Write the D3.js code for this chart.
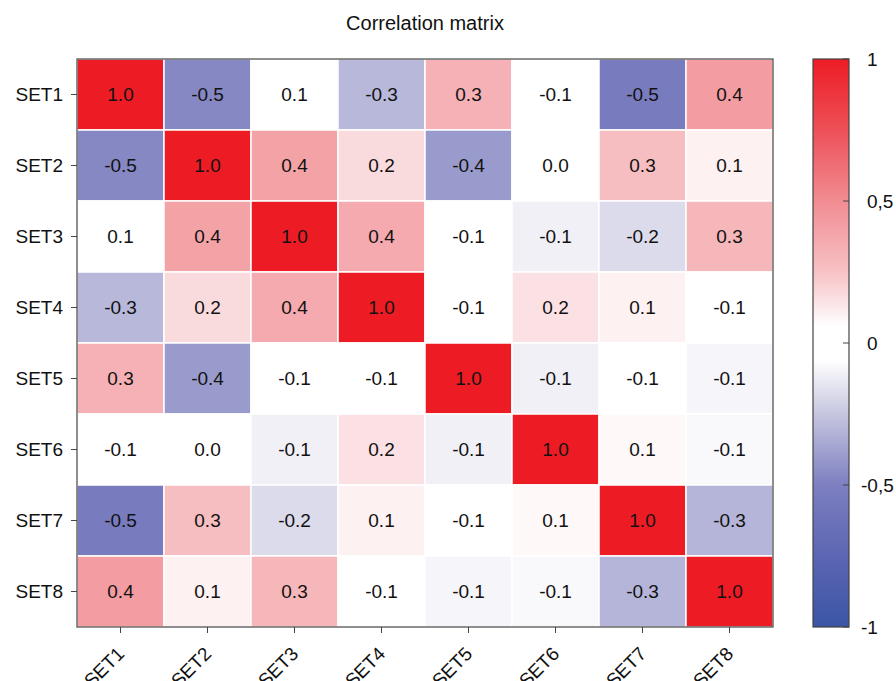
<!DOCTYPE html>
<html><head><meta charset="utf-8">
<script src="https://cdn.jsdelivr.net/npm/d3@7"></script>
<style>body{margin:0;background:#fff}svg{display:block;font-family:"Liberation Sans",Arial,sans-serif}</style>
</head><body><svg id="c" width="896" height="681"></svg>
<script>
const title = "Correlation matrix";
const sets = ["SET1","SET2","SET3","SET4","SET5","SET6","SET7","SET8"];
// correlation values (estimated; labels shown rounded to 1 decimal)
const row1 = [1.00,-0.47, 0.06,-0.30, 0.33,-0.06,-0.54, 0.42];
const row2 = [-0.47,1.00, 0.40, 0.17,-0.40, 0.02, 0.27, 0.10];
const row3 = [0.06, 0.40, 1.00, 0.36,-0.06,-0.11,-0.18, 0.30];
const row4 = [-0.30,0.17, 0.36, 1.00,-0.06, 0.15, 0.10,-0.06];
const row5 = [0.33,-0.40,-0.06,-0.06, 1.00,-0.11,-0.06,-0.09];
const row6 = [-0.06,0.02,-0.11, 0.15,-0.11, 1.00, 0.08,-0.08];
const row7 = [-0.54,0.27,-0.18, 0.10,-0.06, 0.08, 1.00,-0.31];
const row8 = [0.42, 0.10, 0.30,-0.06,-0.09,-0.08,-0.31, 1.00];
const matrix = [row1,row2,row3,row4,row5,row6,row7,row8];
const legendTicks = [1, 0.5, 0, -0.5, -1];
const legendTickLabels = ["1","0,5","0","-0,5","-1"];
const colorStops = [1,0.75,0.5,0.25,0.1,0.06,0,-0.06,-0.1,-0.25,-0.5,-0.75,-1];
const colorValues = ["#ED1C24","#EE5058","#F18C92","#F7C2C5","#FDF1F2","#FFFFFF","#FFFFFF","#FFFFFF","#F3F3F8","#C6C6E0","#7D7FC0","#5C66B3","#3B55A5"];

const svg = d3.select("#c");
const L=77, R=773, T=59, B=627;
const x = d3.scaleBand().domain(sets).range([L,R]).padding(0);
const y = d3.scaleBand().domain(sets).range([T,B]).padding(0);
const color = d3.scaleLinear().domain(colorStops).range(colorValues).interpolate(d3.interpolateRgb).clamp(true);

svg.append("text").attr("x",(L+R)/2).attr("y",30).attr("text-anchor","middle")
  .attr("font-size",20).attr("fill","#111").text(title);

const cells = [];
matrix.forEach((r,i)=>r.forEach((v,j)=>cells.push({row:sets[i],col:sets[j],v})));

svg.append("g").selectAll("rect").data(cells).join("rect")
  .attr("x",d=>x(d.col)).attr("y",d=>y(d.row))
  .attr("width",x.bandwidth()).attr("height",y.bandwidth())
  .attr("fill",d=>color(d.v)).attr("stroke","#fff").attr("stroke-width",1.5);

svg.append("g").selectAll("text").data(cells).join("text")
  .attr("x",d=>x(d.col)+x.bandwidth()/2).attr("y",d=>y(d.row)+y.bandwidth()/2)
  .attr("dy","0.36em").attr("text-anchor","middle").attr("font-size",19).attr("fill","#111")
  .text(d=>{const r=Math.round(d.v*10)/10; return (r===0?0:r).toFixed(1);});

svg.append("rect").attr("x",L).attr("y",T).attr("width",R-L).attr("height",B-T)
  .attr("fill","none").attr("stroke","#444").attr("stroke-width",1.2);

// y axis
const ya = svg.append("g").attr("transform",`translate(${L},0)`)
  .call(d3.axisLeft(y).tickSize(6).tickPadding(8));
ya.select(".domain").remove();
ya.selectAll("line").attr("stroke","#444");
ya.selectAll("text").attr("font-size",19).attr("fill","#111").attr("font-family","Liberation Sans, Arial, sans-serif");

// x axis
const xa = svg.append("g").attr("transform",`translate(0,${B})`)
  .call(d3.axisBottom(x).tickSize(6));
xa.select(".domain").remove();
xa.selectAll("line").attr("stroke","#444");
xa.selectAll("text").attr("font-size",19).attr("fill","#111").attr("font-family","Liberation Sans, Arial, sans-serif")
  .attr("text-anchor","end").attr("x",0).attr("y",0).attr("dy",0)
  .attr("transform","translate(5,28) rotate(-45)");

// legend
const CL=813, CR=849;
const ly = d3.scaleLinear().domain([1,-1]).range([T,B]);
const defs = svg.append("defs");
const grad = defs.append("linearGradient").attr("id","lg").attr("x1",0).attr("y1",0).attr("x2",0).attr("y2",1);
colorStops.forEach((s,i)=>grad.append("stop").attr("offset",(ly(s)-T)/(B-T)).attr("stop-color",colorValues[i]));
svg.append("rect").attr("x",CL).attr("y",T).attr("width",CR-CL).attr("height",B-T)
  .attr("fill","url(#lg)").attr("stroke","#444").attr("stroke-width",1.2);
svg.append("g").selectAll("line").data(legendTicks).join("line")
  .attr("x1",CR-6).attr("x2",CR).attr("y1",d=>ly(d)).attr("y2",d=>ly(d)).attr("stroke","#444");
svg.append("g").selectAll("text").data(legendTicks).join("text")
  .attr("x",d=>d<0?861:867).attr("y",d=>ly(d)).attr("dy","0.36em")
  .attr("font-size",19).attr("fill","#111").text((d,i)=>legendTickLabels[i]);
</script></body></html>
